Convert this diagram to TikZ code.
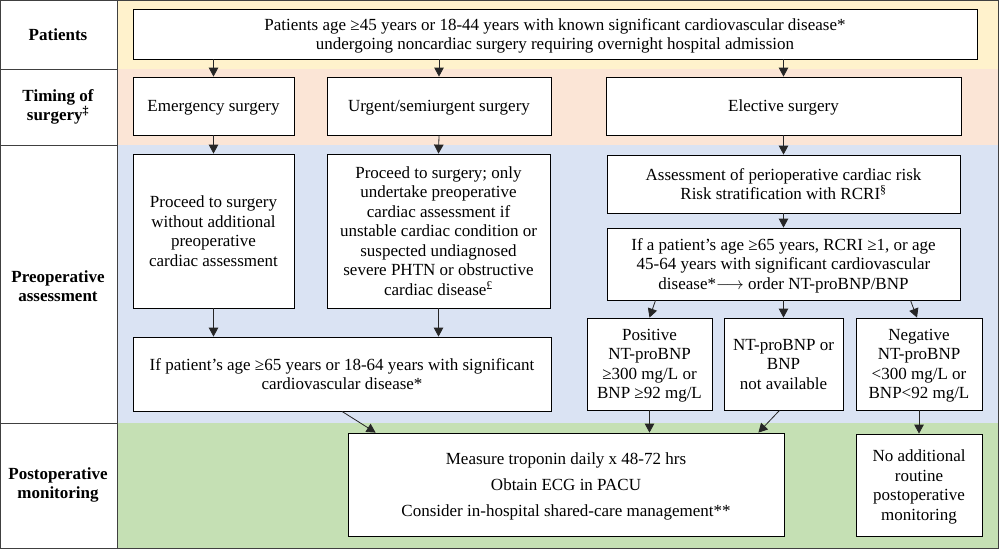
\documentclass[tikz,border=0pt]{standalone}
\usepackage{fontspec}
\setmainfont{Liberation Serif}
\usetikzlibrary{arrows.meta,calc,shadows}
\definecolor{rowyellow}{HTML}{FFF2CC}
\definecolor{rowpeach}{HTML}{FBE5D6}
\definecolor{rowblue}{HTML}{DAE3F3}
\definecolor{rowgreen}{HTML}{C5E0B4}
\definecolor{framegray}{HTML}{404040}
\begin{document}
\begin{tikzpicture}[x=1pt,y=-1pt,
  box/.style={draw=black, line width=0.8pt, fill=white, align=center, inner sep=2pt,
    text depth=0pt, font=\fontsize{17}{19.5}\selectfont,
    drop shadow={shadow xshift=1.3pt, shadow yshift=-1.3pt, fill=black!40, opacity=1}},
  rowlabel/.style={align=center, font=\fontsize{17}{19.5}\selectfont\bfseries},
  arr/.style={-{Triangle[length=9pt,width=9.5pt]}, line width=0.8pt, draw=black!85}]
\useasboundingbox (0,0) rectangle (1000,549);
% row backgrounds
\fill[rowyellow] (117,0) rectangle (998,69);
\fill[rowpeach] (117,69) rectangle (998,145);
\fill[rowblue] (117,145) rectangle (998,423);
\fill[rowgreen] (117,423) rectangle (998,548);
% frame
\draw[framegray, line width=1pt] (0.5,0.5) rectangle (998,548);
\draw[framegray, line width=1pt] (117,0.5) -- (117,548);
\draw[framegray, line width=1pt] (0.5,69) -- (117,69);
\draw[framegray, line width=1pt] (0.5,145) -- (117,145);
\draw[framegray, line width=1pt] (0.5,423) -- (117,423);
% row labels
\node[rowlabel] (l1) at (58,34.5) {Patients};
\node[rowlabel] (l2) at (58,107) {Timing of\\surgery\textsuperscript{‡}};
\node[rowlabel] (l3) at (58,286) {Preoperative\\assessment};
\node[rowlabel] (l4) at (58,485) {Postoperative\\monitoring};
% boxes
\node[box, minimum width=844pt, minimum height=50pt] (pat) at (555,34)
  {Patients age ≥45 years or 18-44 years with known significant cardiovascular disease*\\
   undergoing noncardiac surgery requiring overnight hospital admission};
\node[box, minimum width=161pt, minimum height=58pt] (emer) at (213.5,106) {Emergency surgery};
\node[box, minimum width=224pt, minimum height=58pt] (urg) at (439,106) {Urgent/semiurgent surgery};
\node[box, minimum width=355pt, minimum height=58pt] (elec) at (783.5,106) {Elective surgery};
\node[box, minimum width=161pt, minimum height=154pt] (proc) at (213.5,231)
  {Proceed to surgery\\without additional\\preoperative\\cardiac assessment};
\node[box, minimum width=223pt, minimum height=154pt] (proc2) at (438.5,231)
  {Proceed to surgery; only\\undertake preoperative\\cardiac assessment if\\unstable cardiac condition or\\suspected undiagnosed\\severe PHTN or obstructive\\cardiac disease\textsuperscript{£}};
\node[box, minimum width=418pt, minimum height=74pt] (ifpat) at (342,374)
  {If patient’s age ≥65 years or 18-64 years with significant\\cardiovascular disease*};
\node[box, minimum width=353pt, minimum height=58pt] (assess) at (783.5,184)
  {Assessment of perioperative cardiac risk\\Risk stratification with RCRI\textsuperscript{§}};
\node[box, minimum width=353pt, minimum height=72pt] (ifa) at (783.5,264)
  {If a patient’s age ≥65 years, RCRI ≥1, or age\\45-64 years with significant cardiovascular\\disease*$\longrightarrow$ order NT-proBNP/BNP};
\node[box, minimum width=125pt, minimum height=92pt] (pos) at (649.5,364)
  {Positive\\NT-proBNP\\≥300 mg/L or\\BNP ≥92 mg/L};
\node[box, minimum width=119pt, minimum height=92pt] (nt) at (783.5,364)
  {NT-proBNP or\\BNP\\not available};
\node[box, minimum width=126pt, minimum height=92pt] (neg) at (919,364)
  {Negative\\NT-proBNP\\<300 mg/L or\\BNP<92 mg/L};
\node[box, minimum width=436pt, minimum height=103pt] (meas) at (566,484.5)
  {Measure troponin daily x 48-72 hrs\\[6.5pt]Obtain ECG in PACU\\[6.5pt]Consider in-hospital shared-care management**};
\node[box, minimum width=126pt, minimum height=102pt] (noadd) at (919,485)
  {No additional\\routine\\postoperative\\monitoring};
% arrows
\draw[arr] (emer|-pat.south) -- (emer.north);
\draw[arr] (urg|-pat.south) -- (urg.north);
\draw[arr] (elec|-pat.south) -- (elec.north);
\draw[arr] (emer.south) -- (proc.north);
\draw[arr] (urg.south) -- (proc2.north);
\draw[arr] (elec.south) -- (assess.north);
\draw[arr] (assess.south) -- (ifa.north);
\draw[arr] (proc.south) -- (proc.south|-ifpat.north);
\draw[arr] (proc2.south) -- (proc2.south|-ifpat.north);
\draw[arr] ($(ifa.south)+(-128,0)$) -- (pos.north);
\draw[arr] (ifa.south) -- (nt.north);
\draw[arr] ($(ifa.south)+(127,0)$) -- ($(neg.north)+(-2,0)$);
\draw[arr] (ifpat.south) -- ($(meas.north west)+(28,0)$);
\draw[arr] (pos.south) -- (pos.south|-meas.north);
\draw[arr] ($(nt.south)+(-4,0)$) -- ($(meas.north east)+(-26,0)$);
\draw[arr] (neg.south) -- (neg.south|-noadd.north);
\end{tikzpicture}
\end{document}
